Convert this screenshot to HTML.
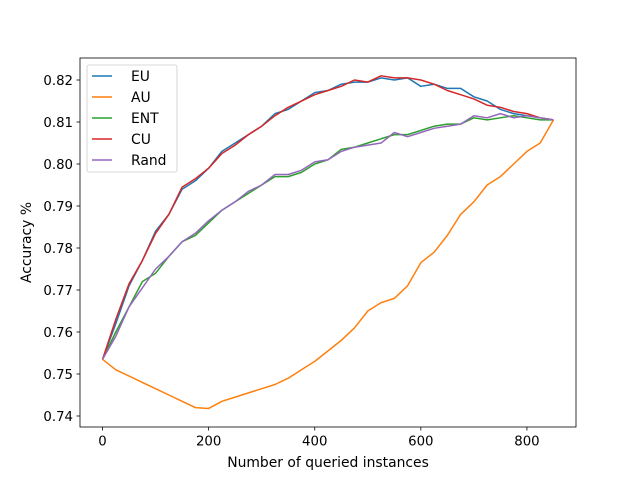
<!DOCTYPE html>
<html><head><meta charset="utf-8"><style>
body{margin:0;background:#fff}
svg{display:block;font-family:"DejaVu Sans","Liberation Sans",sans-serif}
</style></head><body>
<svg id="chart" width="640" height="480"></svg>
<script>
const xs=[0,25,50,75,100,125,150,175,200,225,250,275,300,325,350,375,400,425,450,475,500,525,550,575,600,625,650,675,700,725,750,775,800,825,850];
const euVals=[0.7535,0.762,0.771,0.777,0.784,0.788,0.794,0.796,0.799,0.803,0.805,0.807,0.809,0.812,0.813,0.815,0.817,0.8175,0.819,0.8195,0.8195,0.8205,0.820,0.8205,0.8185,0.819,0.818,0.818,0.816,0.815,0.813,0.812,0.8115,0.811,0.8105];
const auVals=[0.7535,0.751,0.7495,0.748,0.7465,0.745,0.7435,0.742,0.7418,0.7435,0.7445,0.7455,0.7465,0.7475,0.749,0.751,0.753,0.7555,0.758,0.761,0.765,0.767,0.768,0.771,0.7765,0.779,0.783,0.788,0.791,0.795,0.797,0.800,0.803,0.805,0.8105];
const entVals=[0.7535,0.760,0.766,0.772,0.774,0.778,0.7815,0.783,0.786,0.789,0.791,0.793,0.795,0.797,0.797,0.798,0.800,0.801,0.8035,0.804,0.805,0.806,0.807,0.807,0.808,0.809,0.8095,0.8095,0.811,0.8105,0.811,0.8115,0.811,0.8105,0.8105];
const cuVals=[0.7535,0.763,0.7715,0.777,0.7835,0.788,0.7945,0.7965,0.799,0.8025,0.8045,0.807,0.809,0.8115,0.8135,0.815,0.8165,0.8175,0.8185,0.820,0.8195,0.821,0.8205,0.8205,0.820,0.819,0.8175,0.8165,0.8155,0.814,0.8135,0.8125,0.812,0.811,0.8105];
const randVals=[0.7535,0.759,0.766,0.7705,0.775,0.778,0.7815,0.7835,0.7865,0.789,0.791,0.7935,0.795,0.7975,0.7975,0.7985,0.8005,0.801,0.803,0.804,0.8045,0.805,0.8075,0.8065,0.8075,0.8085,0.809,0.8095,0.8115,0.811,0.812,0.811,0.8115,0.811,0.8105];
const seriesNames=["EU","AU","ENT","CU","Rand"];
const seriesColors=["#1f77b4","#ff7f0e","#2ca02c","#d62728","#9467bd"];
const xTicks=[0,200,400,600,800];
const yTicks=[0.74,0.75,0.76,0.77,0.78,0.79,0.80,0.81,0.82];

const L=80,R=576,T=58,B=427;
const xMin=-42.5,xMax=892.5,yMin=0.73738,yMax=0.82524;
const sx=v=>L+(v-xMin)/(xMax-xMin)*(R-L);
const sy=v=>B-(v-yMin)/(yMax-yMin)*(B-T);
const svg=document.getElementById('chart');
const NS='http://www.w3.org/2000/svg';
function mk(tag,attrs,parent){const e=document.createElementNS(NS,tag);for(const k in attrs)e.setAttribute(k,attrs[k]);(parent||svg).appendChild(e);return e;}

const all=[euVals,auVals,entVals,cuVals,randVals];
all.forEach((vals,i)=>{
  const d=vals.map((v,j)=>(j?'L':'M')+sx(xs[j]).toFixed(2)+','+sy(v).toFixed(2)).join('');
  const p=mk('path',{d:d,fill:'none',stroke:seriesColors[i],'stroke-width':1.5,'stroke-linejoin':'round'});
  
  
});

const frame=mk('rect',{x:L,y:T,width:R-L,height:B-T,fill:'none',stroke:'#000','stroke-width':0.8});



xTicks.forEach(t=>{
  const x=sx(t);
  mk('line',{x1:x,x2:x,y1:B,y2:B+3.5,stroke:'#000','stroke-width':0.8});
  const tx=mk('text',{x:x,y:B+18.5,'text-anchor':'middle','font-size':13.3});
  tx.textContent=t;
  
  
});
yTicks.forEach(t=>{
  const y=sy(t);
  mk('line',{x1:L-3.5,x2:L,y1:y,y2:y,stroke:'#000','stroke-width':0.8});
  const tx=mk('text',{x:L-7,y:y+5,'text-anchor':'end','font-size':13.3});
  tx.textContent=t.toFixed(2);
  
  
});
const xt=mk('text',{x:(L+R)/2,y:467,'text-anchor':'middle','font-size':13.9});
xt.textContent='Number of queried instances';


const yt=mk('text',{x:0,y:0,'text-anchor':'middle','font-size':13.9,transform:'translate(31,'+((T+B)/2)+') rotate(-90)'});
yt.textContent='Accuracy %';



const lg=mk('g',{});


mk('rect',{x:87,y:65,width:90,height:107,rx:2,fill:'#fff','fill-opacity':0.8,stroke:'#ccc','stroke-width':0.8},lg);
seriesNames.forEach((n,i)=>{
  const y=76+i*21;
  const e=mk('g',{},lg);
  
  
  mk('line',{x1:92,x2:112,y1:y,y2:y,stroke:seriesColors[i],'stroke-width':1.5},e);
  const t=mk('text',{x:131,y:y+5,'font-size':13.9},e);
  t.textContent=n;
});
</script>
</body></html>
